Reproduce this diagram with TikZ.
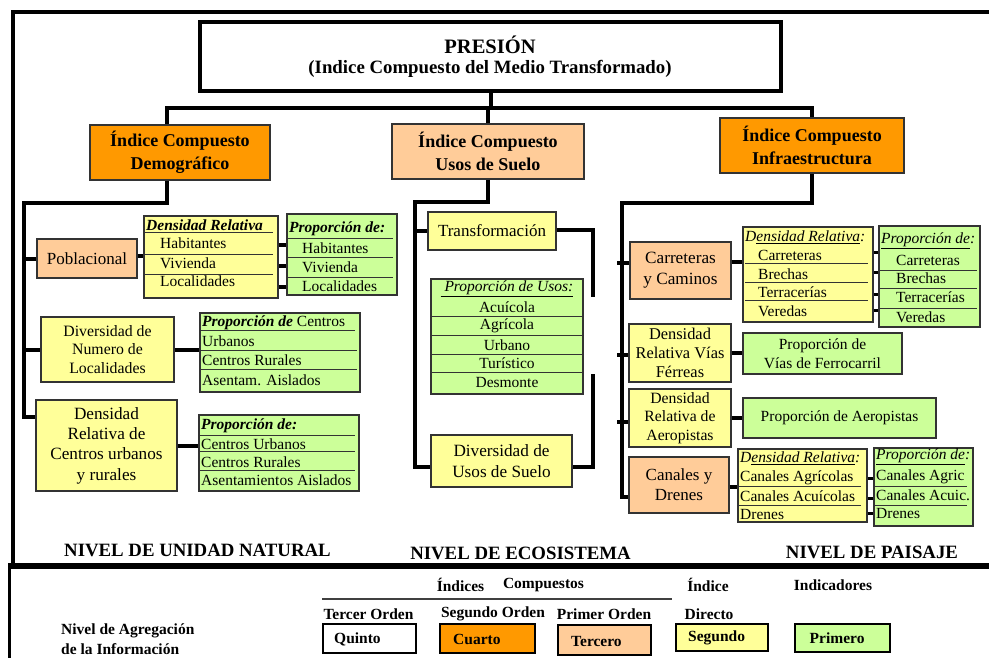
\documentclass[tikz,border=0pt]{standalone}
\usepackage{fontspec}
\setmainfont{Liberation Serif}
\definecolor{cOrange}{HTML}{FF9900}
\definecolor{cPeach}{HTML}{FFCC99}
\definecolor{cYellow}{HTML}{FFFF99}
\definecolor{cGreen}{HTML}{CCFF99}
\definecolor{cLine}{HTML}{333333}
\newcommand\szbox{\fontsize{16.5}{19}\selectfont}
\newcommand\sztab{\fontsize{15.5}{18.5}\selectfont}
\newcommand\szhead{\fontsize{18}{23}\selectfont\bfseries}
\newcommand\szlev{\fontsize{18.8}{22}\selectfont\bfseries}
\newcommand\szleg{\fontsize{15.5}{18}\selectfont\bfseries}
\newcommand\fsz[2]{\fontsize{#1}{#2}\selectfont}
\newcommand\bx[7]{\node[bx,#6,minimum width={#4-#2},minimum height={#5-#3}] (#1) at ({(#2+#4)/2},{(#3+#5)/2}) {#7};}
\newcommand\tx[5]{\node[#4] (#1) at (#2,#3) {#5};}
\tikzset{
  bx/.style={draw=cLine,line width=1.1pt,inner sep=0pt,align=center,font=\szbox},
  conn/.style={line width=4pt,line join=miter,draw=black},
  tk/.style={line width=3pt,draw=black},
  rl/.style={line width=1pt,draw=cLine},
  tt/.style={inner sep=0pt,font=\sztab,anchor=west},
  tc/.style={inner sep=0pt,font=\sztab},
  th/.style={inner sep=0pt,font=\sztab\bfseries\itshape,anchor=west},
  ti/.style={inner sep=0pt,font=\sztab\itshape,anchor=west},
  lev/.style={inner sep=0pt,font=\szlev},
  leg/.style={inner sep=0pt,font=\szleg},
  legbox/.style={draw=black,line width=1.2pt}
}
\begin{document}
\begin{tikzpicture}[x=1pt,y=-1pt]
\useasboundingbox[fill=white] (0,0) rectangle (989,658);
% frame
\draw[line width=4pt] (989,12) -- (13,12) -- (13,566);
\draw[line width=6.5pt] (8,566) -- (989,566);
\draw[line width=3pt] (9,566) -- (9,658);

% top
\bx{P}{200}{22}{781}{91}{line width=4pt,draw=black,fill=white}{}
\tx{Pt1}{490}{45}{inner sep=0pt,font=\fsz{20.5}{24}\bfseries}{PRESIÓN}
\tx{Pt2}{490}{69}{inner sep=0pt,font=\fsz{18.8}{22}\bfseries}{(Indice Compuesto del Medio Transformado)}

\bx{D1}{90}{125}{270}{180}{fill=cOrange,font=\szhead}{Índice Compuesto\\Demográfico}
\bx{D2}{392}{124}{584}{179}{fill=cPeach,font=\szhead}{Índice Compuesto\\Usos de Suelo}
\bx{D3}{720}{118}{904}{173}{fill=cOrange,font=\szhead}{Índice Compuesto\\Infraestructura}

\coordinate (bus) at (0,108);
\coordinate (b1) at (167,108);
\draw[conn] (P.south) -- (P.south |- bus);
\draw[conn] (b1 |- D1.north) -- (b1) -- (D3.north |- bus) -- (D3.north);
\draw[conn] (D2.north |- bus) -- (D2.north);

% ---------- left column
\bx{L1}{37}{239}{137}{278}{fill=cPeach,font=\fsz{17}{20}}{Poblacional}
\bx{L2}{41}{317}{174}{382}{fill=cYellow,font=\fsz{15.8}{18.3}}{Diversidad de\\Numero de\\Localidades}
\bx{L3}{36}{400}{177}{491}{fill=cYellow,font=\fsz{17.2}{20.3}}{Densidad\\Relativa de\\Centros urbanos\\y rurales}

\draw[conn] (b1 |- D1.south) -- (167,203) -- (24,203) -- (24,417) -- (L3.west |- 0,417);
\draw[conn] (24,0 |- L1.west) -- (L1.west);
\draw[conn] (24,0 |- L2.west) -- (L2.west);

% T1
\bx{T1}{144}{216}{278}{298}{fill=cYellow}{}
\tx{T1h}{146}{225}{th}{Densidad Relativa}
\draw[rl] (144,233) -- (273,233);
\draw[rl] (144,254.3) -- (273,254.3);
\draw[rl] (144,274.3) -- (273,274.3);
\tx{T1a}{160}{243.5}{tt}{Habitantes}
\tx{T1b}{160}{263}{tt}{Vivienda}
\tx{T1c}{160}{281.5}{tt}{Localidades}
% T2
\bx{T2}{287}{214}{397}{295}{fill=cGreen}{}
\tx{T2h}{289}{229}{th}{Proporción de:}
\draw[rl] (287,238.3) -- (393,238.3);
\draw[rl] (287,257.7) -- (393,257.7);
\draw[rl] (287,277.7) -- (393,277.7);
\tx{T2a}{302}{248.5}{tt}{Habitantes}
\tx{T2b}{302}{267.5}{tt}{Vivienda}
\tx{T2c}{302}{286.5}{tt}{Localidades}
% T3
\bx{T3}{200}{313}{360}{392}{fill=cGreen}{}
\tx{T3h}{202}{322.5}{tt}{\textbf{\textit{Proporción de}} Centros}
\draw[rl] (200,330.7) -- (355,330.7);
\draw[rl] (200,350.7) -- (357,350.7);
\draw[rl] (200,369) -- (357,369);
\tx{T3a}{202}{341}{tt}{Urbanos}
\tx{T3b}{202}{360}{tt}{Centros Rurales}
\tx{T3c}{202}{380}{tt}{Asentam. Aislados}
% T4
\bx{T4}{199}{415}{359}{491}{fill=cGreen}{}
\tx{T4h}{201}{425.5}{th}{Proporción de:}
\draw[rl] (199,435) -- (355,435);
\draw[rl] (199,451.7) -- (355,451.7);
\draw[rl] (199,470.7) -- (355,470.7);
\tx{T4a}{201}{444}{tt}{Centros Urbanos}
\tx{T4b}{201}{462}{tt}{Centros Rurales}
\tx{T4c}{201}{480.5}{tt}{Asentamientos Aislados}

\draw[conn] (L1.east |- 0,256) -- (T1.west |- 0,256);
\draw[conn] (T1.east |- 0,245) -- (T2.west |- 0,245);
\draw[conn] (T1.east |- 0,266) -- (T2.west |- 0,266);
\draw[conn] (T1.east |- 0,286.7) -- (T2.west |- 0,286.7);
\draw[conn] (L2.east) -- (T3.west |- L2.east);
\draw[conn] (L3.east) -- (T4.west |- L3.east);

% ---------- middle column
\bx{M1}{428}{212}{556}{250}{fill=cYellow,font=\fsz{17}{20}}{Transformación}
\bx{M2}{431}{279}{583}{394}{fill=cGreen}{}
\tx{M2h}{507}{289}{tc,font=\sztab\itshape}{\underline{\ Proporción de Usos:}}
\draw[rl] (431,316.7) -- (583,316.7);
\draw[rl] (431,335.7) -- (583,335.7);
\draw[rl] (431,354.3) -- (583,354.3);
\draw[rl] (431,372.7) -- (583,372.7);
\tx{M2a}{507}{307.5}{tc}{Acuícola}
\tx{M2b}{507}{326}{tc}{Agrícola}
\tx{M2c}{507}{345}{tc}{Urbano}
\tx{M2d}{507}{363.5}{tc}{Turístico}
\tx{M2e}{507}{383}{tc}{Desmonte}
\bx{M3}{431}{435}{572}{487}{fill=cYellow,font=\fsz{17.2}{20.7}}{Diversidad de\\Usos de Suelo}

\draw[conn] (D2.south) -- (D2.south |- 0,202) -- (415,202) -- (415,467) -- (M3.west |- 0,467);
\draw[conn] (415,0 |- M1.west) -- (M1.west);
\draw[conn] (M1.east |- 0,230) -- (593,230) -- (593,297);
\draw[conn] (M3.east |- 0,467) -- (593,467) -- (593,373.5);

% ---------- right column
\bx{R1}{630}{242}{731}{299}{fill=cPeach,font=\fsz{17.2}{21}}{Carreteras\\y Caminos}
\bx{R2}{629}{324}{731}{382}{fill=cYellow,font=\fsz{16.4}{19}}{Densidad\\Relativa Vías\\Férreas}
\bx{R3}{629}{389}{731}{447}{fill=cYellow,font=\fsz{15.7}{18.3}}{Densidad\\Relativa de\\Aeropistas}
\bx{R4}{629}{457}{729}{513}{fill=cPeach,font=\fsz{17}{20}}{Canales y\\Drenes}

\draw[conn] (D3.south) -- (D3.south |- 0,203) -- (622,203) -- (622,497) -- (R4.west |- 0,497);
\draw[conn] (617,263) -- (R1.west |- 0,263);
\draw[conn] (617,355) -- (R2.west |- 0,355);
\draw[conn] (617,422) -- (R3.west |- 0,422);

% RT1
\bx{RT1}{743}{227}{873}{322}{fill=cYellow}{}
\tx{RT1h}{745}{237.5}{ti}{D\underline{ensidad Relativa}:}
\draw[rl] (745,263.3) -- (868,263.3);
\draw[rl] (745,282.3) -- (868,282.3);
\draw[rl] (745,300.7) -- (868,300.7);
\tx{RT1a}{758}{255.5}{tt}{Carreteras}
\tx{RT1b}{758}{274}{tt}{Brechas}
\tx{RT1c}{758}{292.5}{tt}{Terracerías}
\tx{RT1d}{758}{311}{tt}{Veredas}
% RT2
\bx{RT2}{879}{226}{980}{327}{fill=cGreen}{}
\tx{RT2h}{881}{240.5}{ti}{\underline{Proporción de}:}
\draw[rl] (879,270) -- (977,270);
\draw[rl] (879,288.3) -- (977,288.3);
\draw[rl] (879,308.3) -- (977,308.3);
\tx{RT2a}{896}{260}{tt}{Carreteras}
\tx{RT2b}{896}{278.5}{tt}{Brechas}
\tx{RT2c}{896}{297.5}{tt}{Terracerías}
\tx{RT2d}{896}{317}{tt}{Veredas}

\draw[conn] (R1.east |- 0,262) -- (RT1.west |- 0,262);
\draw[tk] (RT1.east |- 0,252.7) -- (RT2.west |- 0,252.7);
\draw[tk] (RT1.east |- 0,272.7) -- (RT2.west |- 0,272.7);
\draw[tk] (RT1.east |- 0,294) -- (RT2.west |- 0,294);
\draw[tk] (RT1.east |- 0,310) -- (RT2.west |- 0,310);

\bx{RV}{743}{333}{902}{374}{fill=cGreen,font=\fsz{15.5}{19}}{Proporción de\\Vías de Ferrocarril}
\bx{RA}{743}{398}{936}{438}{fill=cGreen,font=\sztab}{Proporción de Aeropistas}
\draw[conn] (R2.east |- 0,353) -- (RV.west |- 0,353);
\draw[conn] (R3.east |- 0,418) -- (RA.west |- 0,418);

% RT3
\bx{RT3}{738}{449}{867}{522}{fill=cYellow}{}
\tx{RT3h}{740}{458.5}{ti}{D\underline{ensidad Relativa}:}
\draw[rl] (738,486.7) -- (861,486.7);
\draw[rl] (738,505) -- (861,505);
\tx{RT3a}{740}{477.5}{tt}{Canales Agrícolas}
\tx{RT3b}{740}{496}{tt}{Canales Acuícolas}
\tx{RT3c}{740}{514}{tt}{Drenes}
% RT4
\bx{RT4}{874}{448}{973}{526}{fill=cGreen}{}
\tx{RT4h}{876}{456.5}{ti}{\underline{Proporción de}:}
\draw[rl] (874,486.7) -- (967,486.7);
\draw[rl] (874,505) -- (967,505);
\tx{RT4a}{876}{477}{tt}{Canales Agric}
\tx{RT4b}{876}{495.5}{tt}{Canales Acuic.}
\tx{RT4c}{876}{513.5}{tt}{Drenes}

\draw[conn] (R4.east |- 0,487) -- (RT3.west |- 0,487);
\draw[tk] (RT3.east |- 0,478.3) -- (RT4.west |- 0,478.3);
\draw[tk] (RT3.east |- 0,498.3) -- (RT4.west |- 0,498.3);
\draw[tk] (RT3.east |- 0,513.3) -- (RT4.west |- 0,513.3);

% level labels
\tx{N1}{197.5}{550}{lev}{NIVEL DE UNIDAD NATURAL}
\tx{N2}{520.5}{553}{lev}{NIVEL DE ECOSISTEMA}
\tx{N3}{872}{552}{lev}{NIVEL DE PAISAJE}

% legend
\tx{G1}{460.5}{585}{leg}{Índices}
\tx{G2}{543.5}{585}{leg}{Compuestos}
\tx{G3}{708}{585}{leg}{Índice}
\tx{G4}{833}{585}{leg}{Indicadores}
\draw[line width=1.5pt,draw=black!75] (322,599) -- (672,599);
\tx{G5}{368.5}{614}{leg}{Tercer Orden}
\tx{G6}{493}{614}{leg}{Segundo Orden}
\tx{G7}{604}{614}{leg}{Primer Orden}
\tx{G8}{684.5}{614}{leg,anchor=west}{Directo}
\tx{G9}{61}{631}{leg,anchor=west}{Nivel de Agregación}
\tx{G10}{61}{649.5}{leg,anchor=west}{de la Información}

\bx{K1}{323}{624}{416}{653}{legbox,fill=white}{}
\bx{K2}{440}{624}{535}{653}{legbox,fill=cOrange}{}
\bx{K3}{558}{625}{651}{655}{legbox,fill=cPeach}{}
\bx{K4}{676}{624}{768}{651}{legbox,fill=cYellow}{}
\bx{K5}{795}{624}{890}{652}{legbox,fill=cGreen}{}
\tx{K1t}{334}{639}{leg,anchor=west}{Quinto}
\tx{K2t}{453}{639}{leg,anchor=west}{Cuarto}
\tx{K3t}{571}{641}{leg,anchor=west}{Tercero}
\tx{K4t}{688}{638}{leg,anchor=west}{Segundo}
\tx{K5t}{809.5}{638.5}{leg,anchor=west}{Primero}
\end{tikzpicture}
\end{document}
